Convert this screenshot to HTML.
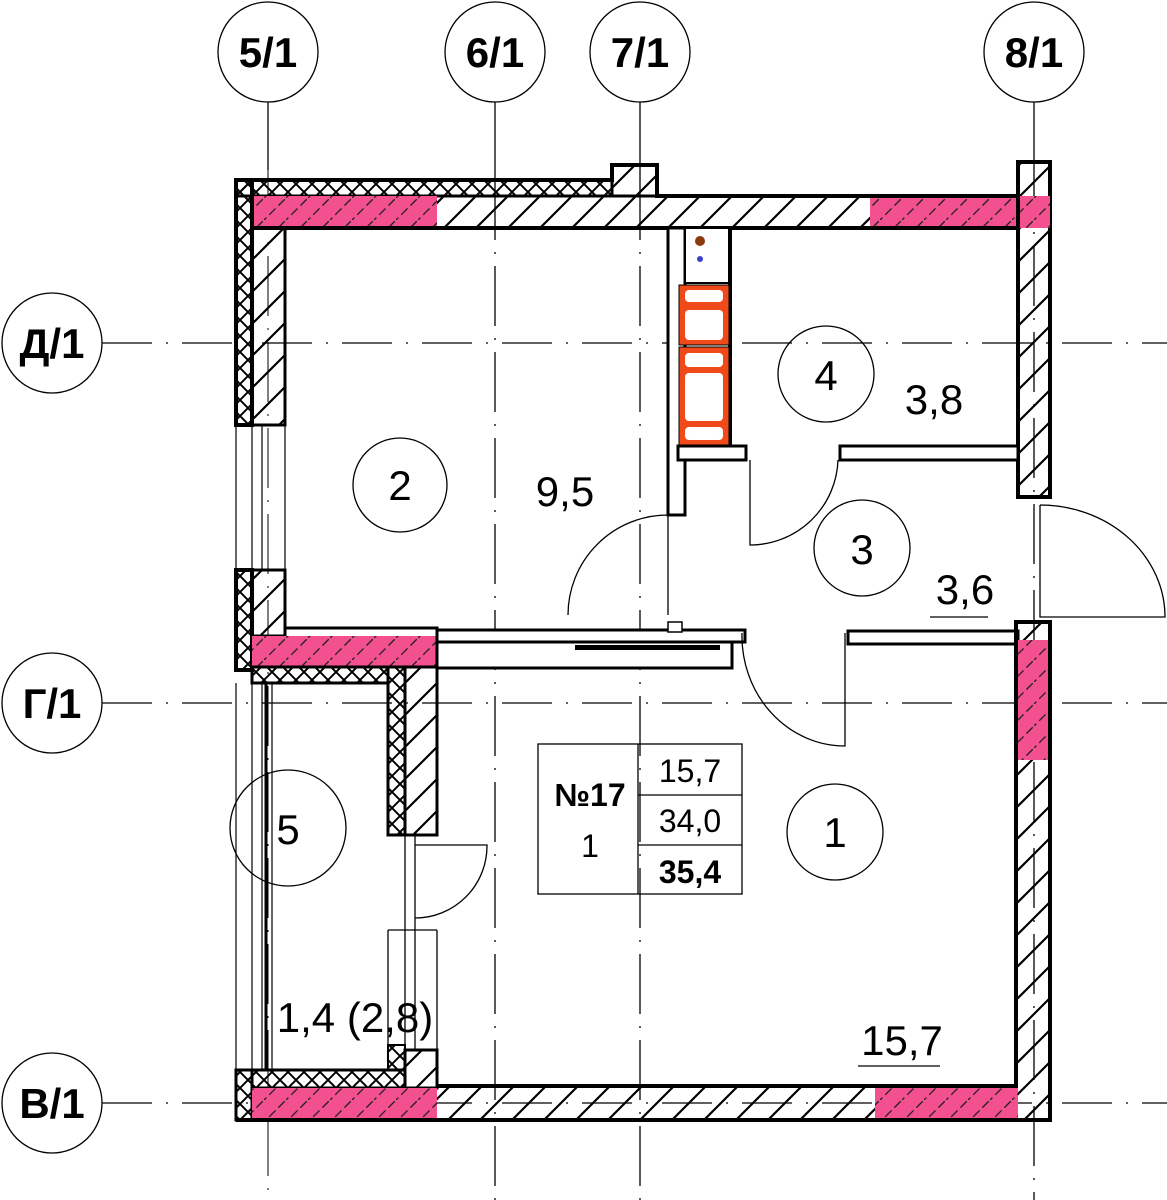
<!DOCTYPE html>
<html><head><meta charset="utf-8"><style>
html,body{margin:0;padding:0;background:#fff;}
svg{display:block;}
text{font-family:"Liberation Sans",sans-serif;}
</style></head><body>
<svg width="1167" height="1200" viewBox="0 0 1167 1200" xmlns="http://www.w3.org/2000/svg">
<defs>
<pattern id="diag" patternUnits="userSpaceOnUse" width="32" height="32">
<path d="M-8,40 L40,-8 M-8,8 L8,-8 M24,40 L40,24" stroke="#000" stroke-width="2.2"/>
</pattern>
<pattern id="pk" patternUnits="userSpaceOnUse" width="22" height="22">
<rect width="22" height="22" fill="#f2508e"/>
<path d="M-4,26 L26,-4" stroke="#222" stroke-width="1.3" stroke-dasharray="9,4"/>
</pattern>
<pattern id="xx" patternUnits="userSpaceOnUse" width="16" height="16">
<path d="M0,0 L16,16 M16,0 L0,16" stroke="#000" stroke-width="2"/>
</pattern>
</defs>
<g fill="none" stroke="#000" stroke-width="1.3">
<!-- axes -->
<path d="M268,102 V170 M495,102 V180 M640,102 V180 M1034,102 V160" />
<path d="M495,180 V1200" stroke-dasharray="60,12,2,12"/>
<path d="M640,180 V1200" stroke-dasharray="60,12,2,12"/>
<path d="M1034,160 V1200" stroke-dasharray="60,12,2,12"/>
<path d="M268,170 V1200" stroke-dasharray="60,12,2,12" stroke-width="1"/>
<path d="M102,343 H1167 M102,703 H1167 M102,1103 H1167" stroke-dasharray="50,14,2,14"/>
<circle cx="268" cy="52" r="50" fill="#fff"/>
<circle cx="495" cy="52" r="50" fill="#fff"/>
<circle cx="640" cy="52" r="50" fill="#fff"/>
<circle cx="1034" cy="52" r="50" fill="#fff"/>
<circle cx="52" cy="343" r="50" fill="#fff"/>
<circle cx="52" cy="703" r="50" fill="#fff"/>
<circle cx="52" cy="1103" r="50" fill="#fff"/>
</g>
<g font-weight="bold" font-size="42" text-anchor="middle">
<text x="268" y="67">5/1</text><text x="495" y="67">6/1</text><text x="640" y="67">7/1</text><text x="1034" y="67">8/1</text>
<text x="52" y="358">Д/1</text><text x="52" y="718">Г/1</text><text x="52" y="1118">В/1</text>
</g>

<!-- top wall -->
<rect x="236" y="180" width="376" height="16" fill="url(#xx)" stroke="#000" stroke-width="3"/>
<rect x="612" y="165" width="45" height="31" fill="url(#diag)" stroke="#000" stroke-width="3"/>
<rect x="252" y="196" width="185" height="32" fill="url(#pk)"/>
<rect x="437" y="196" width="433" height="32" fill="url(#diag)"/>
<rect x="870" y="196" width="180" height="32" fill="url(#pk)"/>
<path d="M236,180 H612 V165 H657 V196 H1018 M252,228 H1018" stroke="#000" stroke-width="4" fill="none"/>
<!-- right wall upper -->
<rect x="1018" y="162" width="32" height="335" fill="url(#diag)" stroke="#000" stroke-width="4"/>
<rect x="1020" y="196" width="30" height="32" fill="url(#pk)"/>
<!-- left wall upper -->
<rect x="236" y="180" width="16" height="245" fill="url(#xx)" stroke="#000" stroke-width="4"/>
<rect x="252" y="228" width="33" height="197" fill="url(#diag)" stroke="#000" stroke-width="3"/>
<path d="M236,425 V570 M252,425 V570 M262,425 V570 M285,425 V570" stroke="#000" stroke-width="1.2"/>
<!-- left wall middle -->
<rect x="236" y="570" width="16" height="100" fill="url(#xx)" stroke="#000" stroke-width="4"/>
<rect x="252" y="570" width="33" height="66" fill="url(#diag)" stroke="#000" stroke-width="3"/>
<rect x="252" y="636" width="185" height="31" fill="url(#pk)"/>
<path d="M285,628 H437 V667" stroke="#000" stroke-width="3" fill="none"/>
<rect x="252" y="667" width="136" height="16" fill="url(#xx)" stroke="#000" stroke-width="3"/>
<rect x="388" y="667" width="17" height="168" fill="url(#xx)" stroke="#000" stroke-width="3"/>
<rect x="405" y="667" width="32" height="168" fill="url(#diag)" stroke="#000" stroke-width="3"/>
<path d="M236,683 V1070 M252,683 V1070 M262,683 V1070 M272,683 V1070" stroke="#000" stroke-width="1.2"/>
<path d="M266,683 V1070" stroke="#000" stroke-width="3"/>
<!-- partition between room 2 and 1 -->
<rect x="437" y="630" width="308" height="12" fill="#fff" stroke="#000" stroke-width="3"/>
<rect x="437" y="642" width="295" height="26" fill="#fff" stroke="#000" stroke-width="3"/>
<rect x="575" y="645" width="145" height="5" fill="#000"/>
<rect x="668" y="622" width="14" height="10" fill="#fff" stroke="#000" stroke-width="1.5"/>
<rect x="848" y="631" width="170" height="13" fill="#fff" stroke="#000" stroke-width="3"/>
<!-- right wall lower -->
<rect x="1016" y="622" width="34" height="498" fill="url(#diag)" stroke="#000" stroke-width="4"/>
<rect x="1018" y="640" width="30" height="120" fill="url(#pk)"/>
<!-- bottom wall -->
<rect x="236" y="1070" width="16" height="50" fill="url(#xx)" stroke="#000" stroke-width="3"/>
<rect x="252" y="1070" width="153" height="18" fill="url(#xx)" stroke="#000" stroke-width="3"/>
<rect x="388" y="1045" width="17" height="25" fill="url(#xx)" stroke="#000" stroke-width="2"/>
<rect x="405" y="1050" width="32" height="38" fill="url(#diag)" stroke="#000" stroke-width="3"/>
<rect x="252" y="1088" width="185" height="32" fill="url(#pk)"/>
<rect x="437" y="1088" width="438" height="32" fill="url(#diag)"/>
<rect x="875" y="1088" width="143" height="32" fill="url(#pk)"/>
<path d="M437,1086 H1018 M236,1120 H1050" stroke="#000" stroke-width="4"/>
<!-- kitchen block -->
<rect x="668" y="228" width="17" height="287" fill="#fff" stroke="#000" stroke-width="3"/>
<rect x="685" y="228" width="45" height="55" fill="#fff" stroke="#000" stroke-width="2"/>
<path d="M730,228 V445" stroke="#000" stroke-width="4"/>
<circle cx="700" cy="241" r="5" fill="#8b3a10"/>
<circle cx="700" cy="259" r="3" fill="#4040d0"/>
<rect x="679" y="285" width="50" height="60" fill="#f04a1a" stroke="#000" stroke-width="1"/>
<rect x="685" y="290" width="38" height="12" rx="4" fill="#fff"/>
<rect x="685" y="310" width="38" height="30" rx="4" fill="#fff"/>
<rect x="679" y="347" width="50" height="98" fill="#f04a1a" stroke="#000" stroke-width="1"/>
<rect x="685" y="353" width="38" height="14" rx="4" fill="#fff"/>
<rect x="685" y="373" width="38" height="48" rx="4" fill="#fff"/>
<rect x="685" y="427" width="38" height="13" rx="4" fill="#fff"/>
<rect x="678" y="446" width="68" height="14" fill="#fff" stroke="#000" stroke-width="3"/>
<rect x="840" y="446" width="178" height="14" fill="#fff" stroke="#000" stroke-width="3"/>
<!-- doors -->
<g fill="none" stroke="#000" stroke-width="1.3">
<path d="M568,615 A100,100 0 0 1 668,515 V615"/>
<path d="M750,460 V545 A88,88 0 0 0 838,460"/>
<path d="M1040,505 V617 H1165 A125,112 0 0 0 1040,505"/>
<path d="M742,633 A103,110 0 0 0 845,746 V633"/>
<path d="M405,835 V1050 M415,835 V1050 M415,845 H487 A72,72 0 0 1 415,918"/>
<path d="M388,930 H437 M388,930 V1045 M437,930 V1050"/>
</g>
<!-- room labels -->
<g fill="none" stroke="#000" stroke-width="1.3">
<circle cx="400" cy="485" r="47"/>
<circle cx="826" cy="374" r="48"/>
<circle cx="862" cy="548" r="48"/>
<circle cx="835" cy="832" r="48"/>
<circle cx="288" cy="828" r="58"/>
<path d="M930,617 H988 M858,1066 H940"/>
<rect x="538" y="744" width="204" height="150"/>
<path d="M638,744 V894 M638,795 H742 M638,845 H742"/>
</g>
<g font-size="42" text-anchor="middle">
<text x="400" y="500">2</text>
<text x="565" y="506">9,5</text>
<text x="826" y="390">4</text>
<text x="934" y="414">3,8</text>
<text x="862" y="564">3</text>
<text x="965" y="604">3,6</text>
<text x="835" y="847">1</text>
<text x="902" y="1055">15,7</text>
<text x="288" y="844">5</text>
<text x="355" y="1032">1,4 (2,8)</text>
</g>
<g font-size="32" text-anchor="middle">
<text x="590" y="806" font-weight="bold">№17</text>
<text x="590" y="857">1</text>
<text x="690" y="782">15,7</text>
<text x="690" y="832">34,0</text>
<text x="690" y="883" font-weight="bold">35,4</text>
</g>
</svg>
</body></html>
